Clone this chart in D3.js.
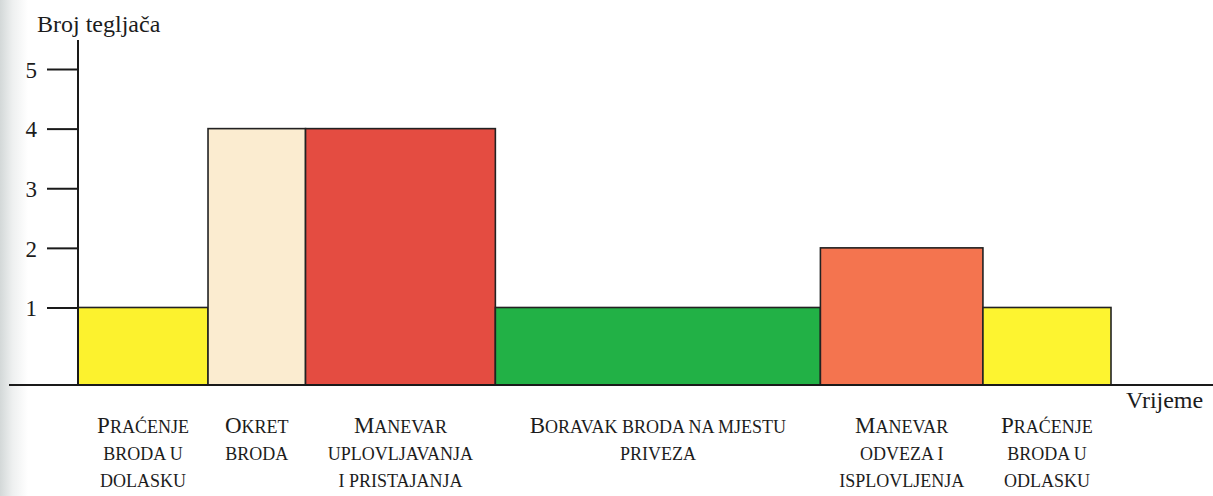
<!DOCTYPE html>
<html>
<head>
<meta charset="utf-8">
<script src="https://cdn.jsdelivr.net/npm/d3@7"></script>
<style>
  html, body { margin: 0; padding: 0; background: #fff; }
  svg { display: block; }
  text { font-family: "Liberation Serif", "Times New Roman", serif; fill: #1c1c1c; }
</style>
</head>
<body>
<svg id="chart" width="1213" height="496"></svg>
<script>
// Phases of a tug-assisted port call: duration (relative time) and tugs engaged
const phaseNames = [
  ["Praćenje", "broda u", "dolasku"],
  ["Okret", "broda"],
  ["Manevar", "uplovljavanja", "i pristajanja"],
  ["Boravak broda na mjestu", "priveza"],
  ["Manevar", "odveza i", "isplovljenja"],
  ["Praćenje", "broda u", "odlasku"]
];
const phaseDurations = [2, 1.5, 2.92, 5, 2.5, 1.97];
const tugCounts = [1, 4, 4, 1, 2, 1];
const phaseColors = ["#fcf22e", "#fbecd0", "#e44c41", "#22b146", "#f4744f", "#fdf430"];
const yTicks = [1, 2, 3, 4, 5];
const yTitle = "Broj tegljača";
const xTitle = "Vrijeme";

const svg = d3.select("#chart");
const W = 1213, H = 496;

// faint grey shading along the left edge
const defs = svg.append("defs");
const grad = defs.append("linearGradient").attr("id", "edge").attr("x1", 0).attr("x2", 1);
grad.append("stop").attr("offset", 0).attr("stop-color", "#d3d8d8");
grad.append("stop").attr("offset", 0.45).attr("stop-color", "#eef0f0");
grad.append("stop").attr("offset", 1).attr("stop-color", "#ffffff");
svg.append("rect").attr("x", 0).attr("y", 0).attr("width", 28).attr("height", H).attr("fill", "url(#edge)");

// cumulative time positions
const starts = [];
let acc = 0;
phaseDurations.forEach(d => { starts.push(acc); acc += d; });
const total = acc;

const x0 = 78, x1 = 1111;
const x = d3.scaleLinear().domain([0, total]).range([x0, x1]);
// the time axis sits a little below the zero level of the tug count
const yFloor = -0.3;
const y = d3.scaleLinear().domain([yFloor, 5]).range([385, 69]);
const baseY = y(yFloor);

// bars
const bars = phaseDurations.map((d, i) => ({ i, start: starts[i], end: starts[i] + d, v: tugCounts[i] }));
svg.append("g").selectAll("rect").data(bars).join("rect")
  .attr("x", d => x(d.start))
  .attr("y", d => y(d.v))
  .attr("width", d => x(d.end) - x(d.start))
  .attr("height", d => baseY - y(d.v))
  .attr("fill", d => phaseColors[d.i])
  .attr("stroke", "#222")
  .attr("stroke-width", 1.6);

// y axis with long outward ticks
const yAxis = d3.axisLeft(y).tickValues(yTicks).tickSize(31).tickPadding(10).tickFormat(d3.format("d"));
const gy = svg.append("g").attr("transform", `translate(${x0},0)`).call(yAxis);
gy.select(".domain").remove();
gy.selectAll(".tick line").attr("stroke", "#1a1a1a").attr("stroke-width", 2);
gy.selectAll(".tick text").style("font-size", "23px").attr("dy", "0.36em");
svg.append("line").attr("x1", x0).attr("x2", x0).attr("y1", 40).attr("y2", baseY)
  .attr("stroke", "#1a1a1a").attr("stroke-width", 2);

// time axis
svg.append("line").attr("x1", 9).attr("x2", W).attr("y1", baseY).attr("y2", baseY)
  .attr("stroke", "#1a1a1a").attr("stroke-width", 2);

// axis titles
svg.append("text").attr("x", 37).attr("y", 32).style("font-size", "24px").text(yTitle);
svg.append("text").attr("x", 1126).attr("y", 408).style("font-size", "24px").text(xTitle);

// phase labels in small capitals, centred under each bar
const lineY = [433, 460, 487];
const labels = svg.append("g");
bars.forEach(b => {
  const cx = (x(b.start) + x(b.end)) / 2;
  phaseNames[b.i].forEach((line, li) => {
    const t = labels.append("text").attr("x", cx).attr("y", lineY[li]).attr("text-anchor", "middle");
    if (li === 0) {
      t.append("tspan").style("font-size", "23px").text(line.charAt(0).toUpperCase());
      t.append("tspan").style("font-size", "18px").text(line.slice(1).toUpperCase());
    } else {
      t.append("tspan").style("font-size", "18px").text(line.toUpperCase());
    }
  });
});
</script>
</body>
</html>
